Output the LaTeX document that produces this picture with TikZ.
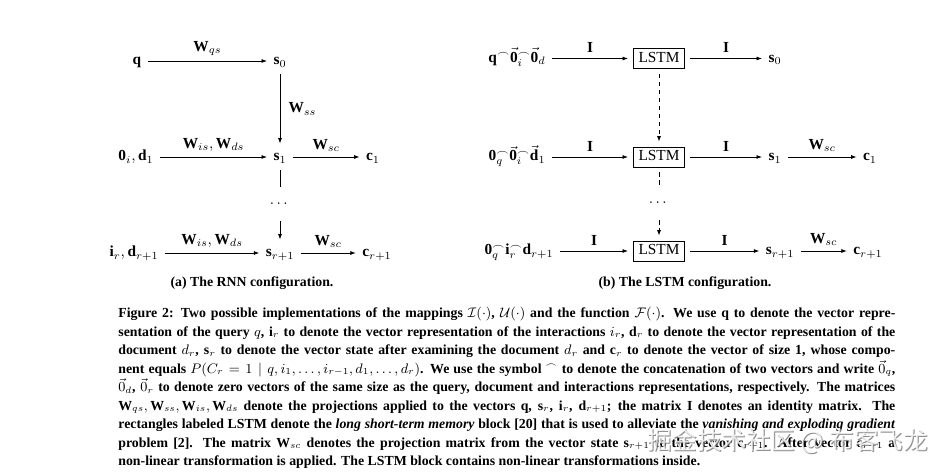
\documentclass[tikz,border=0pt]{standalone}
\usepackage{amsmath,amssymb}
\usepackage{fontspec}
\setmainfont{Liberation Serif}
\newfontfamily\cjkfont{Noto Sans CJK SC}
\usetikzlibrary{arrows.meta}
\newcommand{\capline}[1]{\hbox to\hsize{#1}}

\begin{document}
\begin{tikzpicture}[x=0.651pt,y=-0.651pt,>={Latex[length=3.6pt,width=2.6pt]},line width=0.5pt,
  vec/.style={text height=7pt,text depth=2pt,inner sep=4pt},
  lstm/.style={draw,text height=7pt,text depth=2pt,inner xsep=3.3pt,inner ysep=2pt,outer sep=3.5pt},
  gapnode/.style={text height=7pt,text depth=2pt,inner sep=6.5pt},
  subcap/.style={font=\fontsize{9}{11}\selectfont\bfseries}]
\useasboundingbox (0,0) rectangle (945,473);

% (a) RNN
\node[vec] (q) at (137,61) {$\mathbf{q}$};
\node[vec] (s0) at (280,61) {$\mathbf{s}_0$};
\node[vec] (x1) at (136,157) {$\mathbf{0}_i, \mathbf{d}_1$};
\node[vec] (s1) at (280,157) {$\mathbf{s}_1$};
\node[vec] (c1) at (373,157) {$\mathbf{c}_1$};
\node[gapnode] (gap1) at (280,204) {$\cdots$};
\node[vec] (xr) at (134,253) {$\mathbf{i}_r, \mathbf{d}_{r+1}$};
\node[vec] (sr) at (280,253) {$\mathbf{s}_{r+1}$};
\node[vec] (cr) at (377,253) {$\mathbf{c}_{r+1}$};
\draw[->] (q) -- node[above] {$\mathbf{W}_{qs}$} (s0);
\draw[->] (s0) -- node[right=2pt] {$\mathbf{W}_{ss}$} (s1);
\draw[->] (x1) -- node[above] {$\mathbf{W}_{is}, \mathbf{W}_{ds}$} (s1);
\draw[->] (s1) -- node[above] {$\mathbf{W}_{sc}$} (c1);
\draw (s1) -- (gap1);
\draw[->] (gap1) -- (sr);
\draw[->] (xr) -- node[above] {$\mathbf{W}_{is}, \mathbf{W}_{ds}$} (sr);
\draw[->] (sr) -- node[above] {$\mathbf{W}_{sc}$} (cr);
\node[subcap] (capa) at (252,283) {(a) The RNN configuration.};

% (b) LSTM
\node[vec] (in0) at (517,58.5) {$\mathbf{q}^\frown\vec{\mathbf{0}}_i^\frown\vec{\mathbf{0}}_d$};
\node[vec] (in1) at (517,157) {$\mathbf{0}_q^\frown\vec{\mathbf{0}}_i^\frown\vec{\mathbf{d}}_1$};
\node[vec] (in2) at (519,251) {$\mathbf{0}_q^\frown\mathbf{i}_r^\frown\mathbf{d}_{r+1}$};
\node[lstm] (L0) at (659,58.5) {LSTM};
\node[lstm] (L1) at (659,157) {LSTM};
\node[lstm] (L2) at (659,251) {LSTM};
\node[gapnode] (gap2) at (659,203) {$\cdots$};
\node[vec] (t0) at (775,58.5) {$\mathbf{s}_0$};
\node[vec] (t1) at (775,157) {$\mathbf{s}_1$};
\node[vec] (t2) at (780,251) {$\mathbf{s}_{r+1}$};
\node[vec] (o1) at (870,157) {$\mathbf{c}_1$};
\node[vec] (o2) at (868,251) {$\mathbf{c}_{r+1}$};
\draw[->] (in0) -- node[above] {$\mathbf{I}$} (L0);
\draw[->] (in1) -- node[above] {$\mathbf{I}$} (L1);
\draw[->] (in2) -- node[above] {$\mathbf{I}$} (L2);
\draw[->] (L0) -- node[above] {$\mathbf{I}$} (t0);
\draw[->] (L1) -- node[above] {$\mathbf{I}$} (t1);
\draw[->] (L2) -- node[above] {$\mathbf{I}$} (t2);
\draw[->] (t1) -- node[above] {$\mathbf{W}_{sc}$} (o1);
\draw[->] (t2) -- node[above] {$\mathbf{W}_{sc}$} (o2);
\draw[->,dash pattern=on 3pt off 2.2pt] (L0) -- (L1);
\draw[dash pattern=on 3pt off 2.2pt] (L1) -- (gap2);
\draw[->,dash pattern=on 3pt off 2.2pt] (gap2) -- (L2);
\node[subcap] (capb) at (685,283) {(b) The LSTM configuration.};

% caption
\node[anchor=base west,inner sep=0] (cap) at (118,318) {\vtop{\hsize=505.8pt\bfseries\fontsize{9}{12}\selectfont
\capline{Figure 2: Two possible implementations of the mappings $\mathcal{I}(\cdot)$, $\mathcal{U}(\cdot)$ and the function $\mathcal{F}(\cdot)$. We use $\mathbf{q}$ to denote the vector repre-}
\capline{sentation of the query $q$, $\mathbf{i}_r$ to denote the vector representation of the interactions $i_r$, $\mathbf{d}_r$ to denote the vector representation of the}
\capline{document $d_r$, $\mathbf{s}_r$ to denote the vector state after examining the document $d_r$ and $\mathbf{c}_r$ to denote the vector of size 1, whose compo-}
\capline{nent equals $P(C_r = 1 \mid q, i_1, \ldots, i_{r-1}, d_1, \ldots, d_r)$. We use the symbol $^\frown$ to denote the concatenation of two vectors and write $\vec{0}_q$,}
\capline{$\vec{0}_d$, $\vec{0}_r$ to denote zero vectors of the same size as the query, document and interactions representations, respectively. The matrices}
\capline{$\mathbf{W}_{qs}, \mathbf{W}_{ss}, \mathbf{W}_{is}, \mathbf{W}_{ds}$ denote the projections applied to the vectors $\mathbf{q}$, $\mathbf{s}_r$, $\mathbf{i}_r$, $\mathbf{d}_{r+1}$; the matrix $\mathbf{I}$ denotes an identity matrix. The}
\capline{rectangles labeled LSTM denote the \textit{long short-term memory} block [20] that is used to alleviate the \textit{vanishing and exploding gradient}}
\capline{problem [2]. The matrix $\mathbf{W}_{sc}$ denotes the projection matrix from the vector state $\mathbf{s}_{r+1}$ to the vector $\mathbf{c}_{r+1}$. After vector $\mathbf{c}_{r+1}$ a}
\hbox{non-linear transformation is applied. The LSTM block contains non-linear transformations inside.}}};

% watermark
\node[font=\cjkfont\fontsize{16}{16}\selectfont,text=black!55,opacity=0.8] (wm) at (789,442) {掘金技术社区 @ 布客飞龙};
\node[font=\cjkfont\fontsize{16}{16}\selectfont,text=white,opacity=0.8] (wm2) at (788,441) {掘金技术社区 @ 布客飞龙};
\end{tikzpicture}
\end{document}
